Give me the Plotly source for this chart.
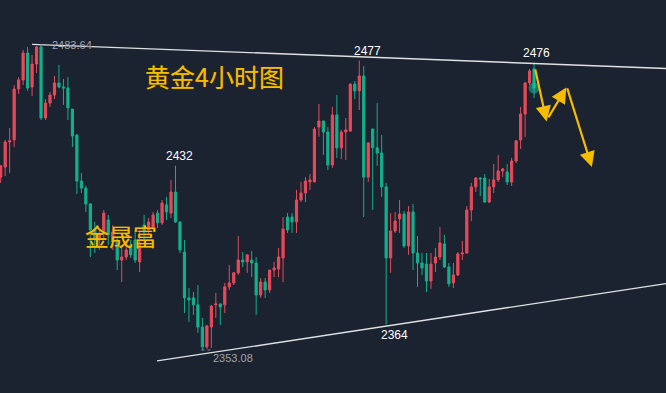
import plotly.graph_objects as go

# ---- data (XAUUSD 4H) ----
opens = [2427.1, 2431.4, 2442.1, 2443.0, 2464.8, 2468.7, 2480.2, 2465.7, 2475.5, 2482.8,
         2452.4, 2458.8, 2462.2, 2467.4, 2465.7, 2465.2, 2456.2, 2445.1, 2425.4, 2422.4,
         2415.6, 2404.5, 2400.2, 2403.2, 2408.7, 2399.3, 2400.2, 2391.6, 2392.9, 2398.0,
         2400.2, 2390.8, 2406.6, 2404.5, 2405.7, 2411.7, 2407.5, 2415.2, 2411.7, 2420.7,
         2407.9, 2395.0, 2375.4, 2375.4, 2372.4, 2362.9, 2354.4, 2362.9, 2372.4, 2372.8,
         2372.4, 2380.1, 2381.8, 2386.1, 2391.6, 2390.8, 2391.6, 2390.3, 2376.6, 2382.2,
         2378.8, 2387.3, 2387.8, 2392.5, 2410.0, 2410.0, 2407.9, 2417.3, 2420.3, 2425.0,
         2425.0, 2448.5, 2451.1, 2446.4, 2432.3, 2453.7, 2439.6, 2446.4, 2446.8, 2466.9,
         2464.0, 2470.4, 2427.1, 2447.7, 2439.6, 2437.4, 2422.9, 2392.5, 2404.0, 2409.2,
         2411.3, 2397.6, 2412.2, 2394.6, 2390.3, 2389.9, 2382.6, 2390.3, 2392.9, 2398.5,
         2388.6, 2381.8, 2385.2, 2394.2, 2394.6, 2413.0, 2422.9, 2426.7, 2426.7, 2416.4,
         2422.9, 2425.9, 2429.7, 2429.3, 2425.0, 2434.0, 2443.0, 2454.1, 2467.4, 2473.4]
highs = [2432.3, 2443.0, 2448.1, 2466.5, 2469.9, 2481.5, 2482.8, 2479.4, 2483.2, 2483.64,
         2460.5, 2463.5, 2470.4, 2475.1, 2469.1, 2469.9, 2456.2, 2445.5, 2428.9, 2423.3,
         2416.0, 2407.9, 2404.5, 2413.0, 2410.9, 2406.6, 2401.5, 2397.2, 2400.2, 2400.2,
         2404.5, 2403.6, 2410.9, 2409.6, 2412.2, 2413.0, 2417.3, 2418.6, 2425.9, 2432.0,
         2407.9, 2400.2, 2379.6, 2377.9, 2380.9, 2366.8, 2363.8, 2372.4, 2377.5, 2372.8,
         2381.8, 2389.5, 2386.5, 2401.9, 2395.0, 2393.8, 2395.5, 2392.9, 2383.9, 2383.9,
         2387.3, 2390.8, 2396.8, 2410.0, 2411.7, 2411.7, 2421.6, 2425.0, 2427.1, 2428.4,
         2448.5, 2458.4, 2451.1, 2448.5, 2457.1, 2462.2, 2447.3, 2452.4, 2467.2, 2468.2,
         2477.0, 2474.6, 2442.1, 2447.7, 2458.8, 2445.1, 2424.6, 2411.7, 2412.2, 2417.3,
         2412.6, 2414.7, 2415.6, 2401.9, 2394.6, 2394.6, 2394.6, 2396.8, 2405.7, 2402.3,
         2390.3, 2390.3, 2395.0, 2399.8, 2414.7, 2424.6, 2427.1, 2427.1, 2428.4, 2426.3,
         2432.7, 2436.6, 2431.0, 2432.7, 2435.3, 2443.0, 2457.1, 2467.8, 2473.4, 2476.0]
lows = [2424.6, 2427.6, 2428.9, 2440.0, 2462.7, 2466.5, 2464.0, 2461.8, 2471.7, 2451.5,
        2451.5, 2457.1, 2460.5, 2465.2, 2458.0, 2451.5, 2440.0, 2419.9, 2420.3, 2412.2,
        2392.9, 2394.6, 2395.9, 2400.2, 2398.0, 2395.9, 2387.3, 2382.2, 2391.6, 2392.5,
        2390.3, 2386.5, 2400.2, 2402.3, 2404.5, 2405.3, 2406.6, 2408.7, 2409.6, 2407.5,
        2394.6, 2368.9, 2365.1, 2368.1, 2360.4, 2353.08, 2353.5, 2354.0, 2366.8, 2363.8,
        2368.9, 2378.8, 2380.9, 2385.2, 2388.6, 2386.1, 2384.3, 2368.1, 2375.4, 2375.4,
        2377.5, 2384.3, 2384.3, 2382.2, 2403.2, 2403.2, 2403.2, 2416.4, 2416.4, 2421.6,
        2425.0, 2444.3, 2436.6, 2430.1, 2431.0, 2435.3, 2434.8, 2434.4, 2446.5, 2460.5,
        2455.8, 2410.0, 2425.0, 2413.0, 2431.9, 2418.6, 2364.0, 2386.1, 2403.2, 2403.2,
        2396.8, 2393.8, 2387.3, 2380.1, 2385.2, 2377.9, 2379.2, 2386.5, 2391.6, 2388.2,
        2380.1, 2379.6, 2384.8, 2391.6, 2394.4, 2408.3, 2420.7, 2419.0, 2416.2, 2416.0,
        2420.3, 2425.0, 2427.1, 2423.7, 2423.3, 2433.1, 2439.1, 2444.3, 2466.5, 2461.0]
closes = [2431.9, 2442.1, 2442.6, 2464.8, 2468.7, 2480.2, 2465.2, 2475.5, 2482.8, 2452.4,
          2458.8, 2462.2, 2467.4, 2465.7, 2465.2, 2456.7, 2444.7, 2425.4, 2422.4, 2415.6,
          2404.5, 2400.2, 2402.3, 2411.7, 2402.3, 2403.6, 2391.6, 2392.9, 2395.9, 2393.8,
          2391.6, 2398.9, 2403.6, 2407.9, 2410.9, 2407.5, 2416.0, 2412.2, 2420.7, 2407.9,
          2395.9, 2375.4, 2374.5, 2372.4, 2362.9, 2354.4, 2363.4, 2371.9, 2372.8, 2371.5,
          2380.1, 2381.8, 2386.1, 2391.6, 2390.8, 2393.8, 2390.3, 2376.6, 2382.2, 2378.8,
          2387.3, 2388.2, 2392.9, 2404.9, 2404.5, 2407.9, 2417.3, 2420.3, 2425.4, 2425.9,
          2447.7, 2451.1, 2446.4, 2432.3, 2453.7, 2439.6, 2446.4, 2447.3, 2466.9, 2464.0,
          2470.4, 2427.1, 2441.7, 2439.6, 2437.4, 2422.9, 2392.5, 2404.0, 2408.3, 2411.3,
          2397.6, 2412.2, 2394.6, 2390.3, 2388.2, 2382.6, 2389.9, 2392.9, 2398.9, 2388.6,
          2381.4, 2385.2, 2394.2, 2394.6, 2413.0, 2422.9, 2426.7, 2426.3, 2416.4, 2422.9,
          2425.9, 2429.7, 2430.6, 2425.0, 2434.0, 2442.6, 2454.1, 2467.4, 2472.5, 2465.2]
bars = list(range(len(closes)))

# marked price labels: (bar position, price, text)
hi_label = (9, 2483.64, "2483.64")
lo_label = (45, 2353.08, "2353.08")
swing_labels = [(80, 2477, "2477"), (39, 2432, "2432"), (119, 2476, "2476"), (86, 2364, "2364")]
swing_label_shift = [1.8, 0.9, 0.6, 1.9]   # horizontal nudge of each label, in bars

# trend channel endpoints (bar, price)
upper_line = [(7.0, 2483.9), (148.44, 2473.6)]
lower_line = [(34.87, 2348.4), (148.44, 2381.5)]

# forecast zigzag arrows: (tail bar, tail price, tip bar, tip price)
arrows = [(119.2, 2473.8, 121.8, 2450.9),
          (122.0, 2452.0, 126.2, 2465.4),
          (126.3, 2465.7, 131.9, 2431.4)]

title_text = "黄金4小时图"
brand_text = "金晟富"

BG = "#1b2230"
UP = "#e84a5a"
DOWN = "#13b08c"
GOLD = "#f6bd00"

fig = go.Figure()
fig.add_trace(go.Candlestick(
    x=bars, open=opens, high=highs, low=lows, close=closes,
    increasing=dict(line=dict(color=UP, width=1), fillcolor=UP),
    decreasing=dict(line=dict(color=DOWN, width=1), fillcolor=DOWN),
    whiskerwidth=0, showlegend=False, hoverinfo="skip",
))

# glow on last price
fig.add_trace(go.Scatter(x=[bars[-1]], y=[closes[-1]], mode="markers",
                         marker=dict(size=11, color="rgba(20,200,160,0.5)"),
                         showlegend=False, hoverinfo="skip"))

for (x0, y0), (x1, y1) in [upper_line, lower_line]:
    fig.add_shape(type="line", x0=x0, y0=y0, x1=x1, y1=y1, xref="x", yref="y",
                  line=dict(color="rgba(235,235,235,0.95)", width=1.4))

# leader dots for high/low labels
for (bx, py, t) in [hi_label, lo_label]:
    fig.add_shape(type="line", x0=bx - 0.2, x1=bx + 1.9, y0=py, y1=py, xref="x", yref="y",
                  line=dict(color="#8a8e98", width=1, dash="dot"))

fig.add_annotation(x=hi_label[0] + 2.0, y=hi_label[1], text=hi_label[2], showarrow=False,
                   xanchor="left", yanchor="middle",
                   font=dict(family="Liberation Sans, Arial", size=11, color="#a0a4ae"))
fig.add_annotation(x=lo_label[0] + 1.9, y=lo_label[1], text=lo_label[2], showarrow=False,
                   xanchor="left", yanchor="top",
                   font=dict(family="Liberation Sans, Arial", size=11, color="#a0a4ae"))

for (bx, py, t), dx in zip(swing_labels, swing_label_shift):
    below = py < 2370
    fig.add_annotation(x=bx + dx, y=py, text=t, showarrow=False,
                       xanchor="center", yanchor="top" if below else "bottom",
                       yshift=-2 if below else 1,
                       font=dict(family="Liberation Sans, Arial", size=12, color="#ffffff"))

fig.add_annotation(x=47.8, y=2470.4, text=title_text, showarrow=False,
                   xanchor="center", yanchor="middle",
                   font=dict(family="Noto Sans CJK SC", size=25, color=GOLD,
                             shadow="0px 0px 1px #7a5600"))
fig.add_annotation(x=26.8, y=2402.3, text=brand_text, showarrow=False,
                   xanchor="center", yanchor="middle",
                   font=dict(family="Noto Sans CJK SC", size=24, color=GOLD,
                             shadow="0px 0px 1px #7a5600"))

for tx, ty, hx, hy in arrows:
    fig.add_annotation(x=hx, y=hy, ax=tx, ay=ty, xref="x", yref="y", axref="x", ayref="y",
                       text="", showarrow=True, arrowhead=2, arrowsize=1.4, arrowwidth=2.2,
                       arrowcolor=GOLD, standoff=0)

fig.update_layout(
    width=666, height=393, margin=dict(l=0, r=0, t=0, b=0),
    paper_bgcolor=BG, plot_bgcolor=BG, showlegend=False,
    xaxis=dict(range=[-0.156, 148.44], visible=False, rangeslider=dict(visible=False),
               showgrid=False, zeroline=False, fixedrange=True),
    yaxis=dict(range=[2334.67, 2502.9], visible=False, showgrid=False, zeroline=False,
               fixedrange=True),
)
fig.write_html("out.html", config={"staticPlot": True},
               post_script="document.body.style.margin='0';document.body.style.background='" + BG + "';")
